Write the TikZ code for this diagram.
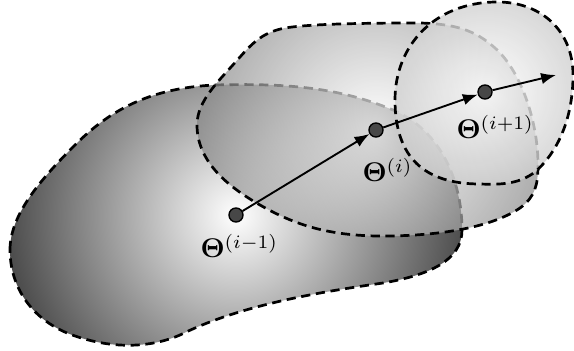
\documentclass[tikz,border=0pt]{standalone}
\usepackage{bm}
\usetikzlibrary{arrows.meta}
\begin{document}
\begin{tikzpicture}[x=0.37pt,y=-0.37pt,
  blobline/.style={line width=1pt, dash pattern=on 3.4pt off 2.1pt},
  dotnode/.style={circle, fill=black!72, draw=black, line width=0.5pt, inner sep=0pt, minimum size=5.2pt},
  lbl/.style={anchor=base west, inner sep=0pt},
  arr/.style={line width=0.7pt, -{Latex[length=5.5pt,width=4.2pt]}}]
\useasboundingbox (0,0) rectangle (574,351);
\def\blobA{(10,250) .. controls (10,215) and (40,180) .. (75,145)
  .. controls (110,110) and (150,88) .. (215,85)
  .. controls (290,83) and (340,88) .. (393,110)
  .. controls (440,130) and (462,180) .. (462,230)
  .. controls (462,260) and (430,275) .. (383,283)
  .. controls (320,292) and (240,305) .. (180,335)
  .. controls (150,348) and (110,350) .. (67,333)
  .. controls (25,315) and (10,280) .. (10,250) -- cycle}
\def\blobB{(197,125) .. controls (197,160) and (225,185) .. (260,205)
  .. controls (295,225) and (330,237) .. (390,236)
  .. controls (450,235) and (495,225) .. (520,208)
  .. controls (535,197) and (538,185) .. (538,165)
  .. controls (538,120) and (520,70) .. (495,48)
  .. controls (475,30) and (455,24) .. (420,23)
  .. controls (360,23) and (310,24) .. (285,28)
  .. controls (265,32) and (255,40) .. (240,57)
  .. controls (220,80) and (197,100) .. (197,125) -- cycle}
\def\blobC{(395,100) .. controls (395,45) and (435,3) .. (495,2)
  .. controls (540,1) and (573,30) .. (573,75)
  .. controls (573,115) and (560,150) .. (535,172)
  .. controls (520,183) and (505,185) .. (480,184)
  .. controls (425,184) and (395,158) .. (395,100) -- cycle}
% blob 1
\begin{scope}
  \clip \blobA;
  \shade[inner color=white, outer color=black!75] (236,215) circle (245);
\end{scope}
\draw[blobline] \blobA;
% blob 2
\begin{scope}[fill opacity=0.7]
  \clip \blobB;
  \shade[inner color=white, outer color=black!75] (376,130) circle (280);
\end{scope}
\draw[blobline] \blobB;
% blob 3
\begin{scope}[fill opacity=0.8]
  \clip \blobC;
  \shade[inner color=white, outer color=black!75] (485,92) circle (375);
\end{scope}
\draw[blobline] \blobC;
% points
\node[dotnode] (p1) at (236,215) {};
\node[dotnode] (p2) at (376,130) {};
\node[dotnode] (p3) at (485,92) {};
\coordinate (pend) at (556,75);
\draw[arr] (p1) -- (p2);
\draw[arr] (p2) -- (p3);
\draw[arr] (p3) -- (pend);
\node[lbl] (l1) at (200,258) {$\bm{\Theta}^{(i-1)}$};
\node[lbl] (l2) at (362,182) {$\bm{\Theta}^{(i)}$};
\node[lbl] (l3) at (456,139) {$\bm{\Theta}^{(i+1)}$};
\end{tikzpicture}
\end{document}
